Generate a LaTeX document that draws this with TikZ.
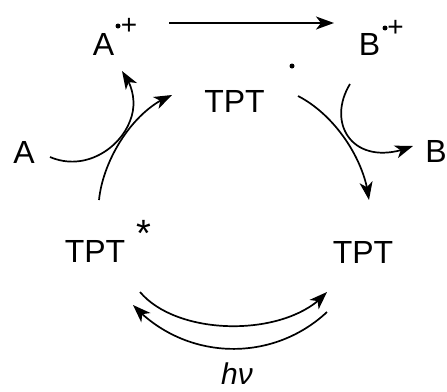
\documentclass[tikz,border=0pt]{standalone}
\usepackage{fontspec}
\setmainfont{Liberation Sans}
\usetikzlibrary{arrows.meta,bending}
\begin{document}
\begin{tikzpicture}[x=1pt,y=-1pt,
  lbl/.style={inner sep=0pt,anchor=base,font=\fontsize{32}{38}\selectfont},
  supl/.style={inner sep=0pt,anchor=base,font=\fontsize{28}{32}\selectfont},
  rad/.style={circle,fill=black,inner sep=0pt,minimum size=5pt},
  arr/.style={line width=1.7pt,-{Stealth[length=18pt,width=13pt,inset=5pt,flex]}},
  ln/.style={line width=1.7pt}]
\useasboundingbox (0,0) rectangle (447,391);
% species
\node[lbl] (Aleft) at (24,163) {A};
\node[lbl] (Arad) at (103.5,55) {A};
\node[rad] (Adot) at (118,26) {};
\node[supl] (Aplus) at (129,34) {+};
\node[lbl] (Brad) at (369.5,55) {B};
\node[rad] (Bdot) at (385,28) {};
\node[supl] (Bplus) at (395.5,36) {+};
\node[lbl] (Bright) at (436,162) {B};
\node[lbl] (TPTtop) at (234.5,112) {TPT};
\node[rad] (Tdot) at (292,66) {};
\node[lbl] (TPTstar) at (95,262) {TPT};
\node[inner sep=0pt,anchor=base,font=\fontsize{38}{42}\selectfont] (star) at (144,246) {*};
\node[lbl] (TPTright) at (363,263) {TPT};
\node[inner sep=0pt,anchor=base,font=\fontsize{30}{36}\selectfont\itshape] (hv) at (237,384) {hν};
% arrow end points
\coordinate (topS) at (169,23);
\coordinate (topE) at (334,23);
\coordinate (c1S) at (99,200);
\coordinate (c1E) at (172,95);
\coordinate (c2S) at (50,157);
\coordinate (c2M) at (130,121);
\coordinate (c2E) at (122,71);
\coordinate (c3S) at (298,96);
\coordinate (c3E) at (369,200);
\coordinate (c4S) at (350,84);
\coordinate (c4E) at (413,146);
\coordinate (upS) at (140,292);
\coordinate (upE) at (327,292);
\coordinate (loS) at (327,312);
\coordinate (loE) at (133,305);
% connectors
\draw[arr] (topS) -- (topE);
\draw[arr] (c1S) .. controls (103,160) and (133,110) .. (c1E);
\draw[ln] (c2S) .. controls (85,172) and (120,148) .. (c2M);
\draw[arr] (c2M) .. controls (137,104) and (133,85) .. (c2E);
\draw[arr] (c3S) .. controls (335,115) and (365,160) .. (c3E);
\draw[arr] (c4S) .. controls (325,125) and (355,170) .. (c4E);
\draw[arr] (upS) .. controls (178.5,337.6) and (288.5,337.6) .. (upE);
\draw[arr] (loS) .. controls (271.5,363.8) and (184.6,360.7) .. (loE);
\end{tikzpicture}
\end{document}
